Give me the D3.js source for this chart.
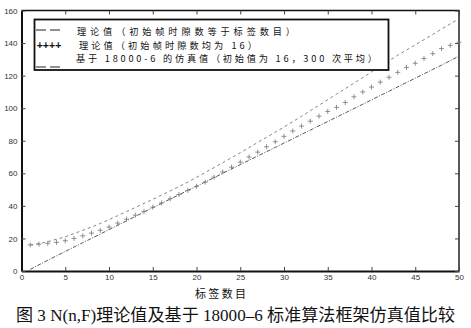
<!DOCTYPE html>
<html>
<head>
<meta charset="utf-8">
<script src="https://cdn.jsdelivr.net/npm/d3@7/dist/d3.min.js"></script>
<style>
  html, body { margin: 0; padding: 0; background: #fff; }
  svg { display: block; }
</style>
</head>
<body>
<svg id="chart" width="471" height="328"></svg>
<script>
// Number of tags n
const tagCounts = [1,2,3,4,5,6,7,8,9,10,11,12,13,14,15,16,17,18,19,20,
  21,22,23,24,25,26,27,28,29,30,31,32,33,34,35,36,37,38,39,40,
  41,42,43,44,45,46,47,48,49,50];

// Theoretical N(n,F), initial frame size equal to the tag count
const theoryEqual = [1.0,3.8,6.6,9.3,12,14.7,17.4,20,22.7,25.4,28.1,30.8,33.5,36.2,38.9,41.5,44.2,46.8,49.5,52,
  54.7,57.3,60,62.7,65.3,68,70.6,73.3,75.9,78.6,81.2,83.9,86.5,89.2,91.8,94.5,97.1,99.8,102.4,105.1,
  107.8,110.4,113.1,115.8,118.4,121.1,123.8,126.4,129.2,132];

// Theoretical N(n,F), initial frame size fixed at 16
const theory16 = [16,16.5,17,17.6,18.6,20,21.6,23.3,25,27,29.4,31.8,34.3,36.6,39.2,41.8,44.4,47,49.5,52,
  54.6,57.6,60.8,63.8,66.9,70,73,76.3,79.4,82.7,86,89,92,95.1,98,100.5,103.5,107,110,113,
  116,119,122,125,127.6,130.5,133.5,136.6,138.6,140.5];

// Simulated values based on 18000-6 (initial frame 16, mean of 300 runs)
const simulated = [16,16.8,18,19.5,21,23,25,27,29.2,31.5,34,36.5,39,41.5,44,46.6,49.2,51.8,54.6,57.5,
  60.5,63.5,66.5,69.6,72.6,75.8,79,82.1,85.2,88.4,91.7,95,98.4,101.8,105.2,108.6,112,115.4,118.8,122.3,
  125.7,129.2,132.5,135.7,138.9,142.1,145.3,148.6,151.8,155];

const xTicks = [0,5,10,15,20,25,30,35,40,45,50];
const yTicks = [0,20,40,60,80,100,120,140,160];

const legendLabels = [
  "理论值（初始帧时隙数等于标签数目）",
  "理论值（初始帧时隙数均为 16）",
  "基于 18000-6 的仿真值（初始值为 16，300 次平均）"
];
const xLabel = "标签数目";
const caption = "图 3  N(n,F)理论值及基于 18000–6 标准算法框架仿真值比较";

const svg = d3.select("#chart");
const plotLeft = 21.5, plotRight = 459, plotTop = 10.5, plotBottom = 271;

const x = d3.scaleLinear().domain([0, 50]).range([plotLeft, plotRight]);
const y = d3.scaleLinear().domain([0, 160]).range([plotBottom, plotTop]);

const tickFont = "'Liberation Sans', Arial, sans-serif";
const cjkFont = "'Noto Sans CJK SC', sans-serif";
const captionFont = "'Liberation Serif', 'Noto Sans CJK SC', serif";

// Box: top and right borders
svg.append("path")
  .attr("d", `M${plotLeft},${plotTop}H${plotRight}V${plotBottom}`)
  .attr("fill", "none").attr("stroke", "#111").attr("stroke-width", 1.4);

// Bottom axis with inward ticks, mirrored on the top border
const xAxis = svg.append("g").attr("transform", `translate(0,${plotBottom})`)
  .call(d3.axisBottom(x).tickValues(xTicks).tickSizeInner(-4).tickSizeOuter(0).tickPadding(3));
xAxis.select(".domain").attr("stroke", "#111").attr("stroke-width", 2);
xAxis.selectAll(".tick line").attr("stroke", "#444");
xAxis.selectAll(".tick text").attr("font-family", tickFont).attr("font-size", 8).attr("fill", "#333");

svg.append("g").attr("transform", `translate(0,${plotTop})`)
  .call(d3.axisTop(x).tickValues(xTicks).tickSizeInner(-4).tickSizeOuter(0).tickFormat(""))
  .call(g => g.select(".domain").remove())
  .selectAll(".tick line").attr("stroke", "#444");

// Left axis with inward ticks, mirrored on the right border
const yAxis = svg.append("g").attr("transform", `translate(${plotLeft},0)`)
  .call(d3.axisLeft(y).tickValues(yTicks).tickSizeInner(-4).tickSizeOuter(0).tickPadding(4));
yAxis.select(".domain").attr("stroke", "#111").attr("stroke-width", 2);
yAxis.selectAll(".tick line").attr("stroke", "#444");
yAxis.selectAll(".tick text").attr("font-family", tickFont).attr("font-size", 8).attr("fill", "#333");

svg.append("g").attr("transform", `translate(${plotRight},0)`)
  .call(d3.axisRight(y).tickValues(yTicks).tickSizeInner(-4).tickSizeOuter(0).tickFormat(""))
  .call(g => g.select(".domain").remove())
  .selectAll(".tick line").attr("stroke", "#444");

// Series
const line = d3.line().x((d, i) => x(tagCounts[i])).y(d => y(d));

svg.append("path").datum(theoryEqual)
  .attr("d", line).attr("fill", "none")
  .attr("stroke", "#444").attr("stroke-width", 0.9)
  .attr("stroke-dasharray", "4,1.5,1,1.5");

svg.append("path").datum(simulated)
  .attr("d", line).attr("fill", "none")
  .attr("stroke", "#777").attr("stroke-width", 0.9)
  .attr("stroke-dasharray", "3,3");

svg.append("g").selectAll("path").data(theory16).join("path")
  .attr("transform", (d, i) => `translate(${x(tagCounts[i])},${y(d)})`)
  .attr("d", "M-2.5,0H2.5M0,-2.5V2.5")
  .attr("fill", "none").attr("stroke", "#777").attr("stroke-width", 0.8);

// Legend
const lg = svg.append("g");
lg.append("rect").attr("x", 34.5).attr("y", 19.5).attr("width", 354).attr("height", 50.5)
  .attr("fill", "#fff").attr("stroke", "#111").attr("stroke-width", 1.8);

lg.append("line").attr("x1", 36).attr("x2", 61).attr("y1", 30).attr("y2", 30)
  .attr("stroke", "#222").attr("stroke-width", 1).attr("stroke-dasharray", "10,4");
lg.append("text").attr("x", 49).attr("y", 48.5)
  .attr("text-anchor", "middle").attr("font-family", tickFont).attr("font-size", 10.5)
  .attr("font-weight", "bold").attr("fill", "#111").text("++++");
lg.append("line").attr("x1", 36).attr("x2", 61).attr("y1", 67).attr("y2", 67)
  .attr("stroke", "#222").attr("stroke-width", 1).attr("stroke-dasharray", "10,4");

const legendX = [77, 79, 76];
const legendY = [35.2, 48.6, 62];
const legendW = [218, 178, 301];
legendLabels.forEach((t, i) => {
  lg.append("text").attr("x", legendX[i]).attr("y", legendY[i])
    .attr("font-family", cjkFont).attr("font-size", 9.2).attr("fill", "#111")
    .attr("textLength", legendW[i]).attr("lengthAdjust", "spacing")
    .text(t);
});

// Axis title and figure caption
svg.append("text").attr("x", 195).attr("y", 298)
  .attr("font-family", cjkFont).attr("font-size", 11).attr("fill", "#111")
  .attr("textLength", 51).attr("lengthAdjust", "spacing")
  .text(xLabel);

svg.append("text").attr("x", 16).attr("y", 321)
  .attr("font-family", captionFont).attr("font-size", 16.5).attr("fill", "#111")
  .attr("textLength", 439).attr("lengthAdjust", "spacingAndGlyphs")
  .text(caption);
</script>
</body>
</html>
